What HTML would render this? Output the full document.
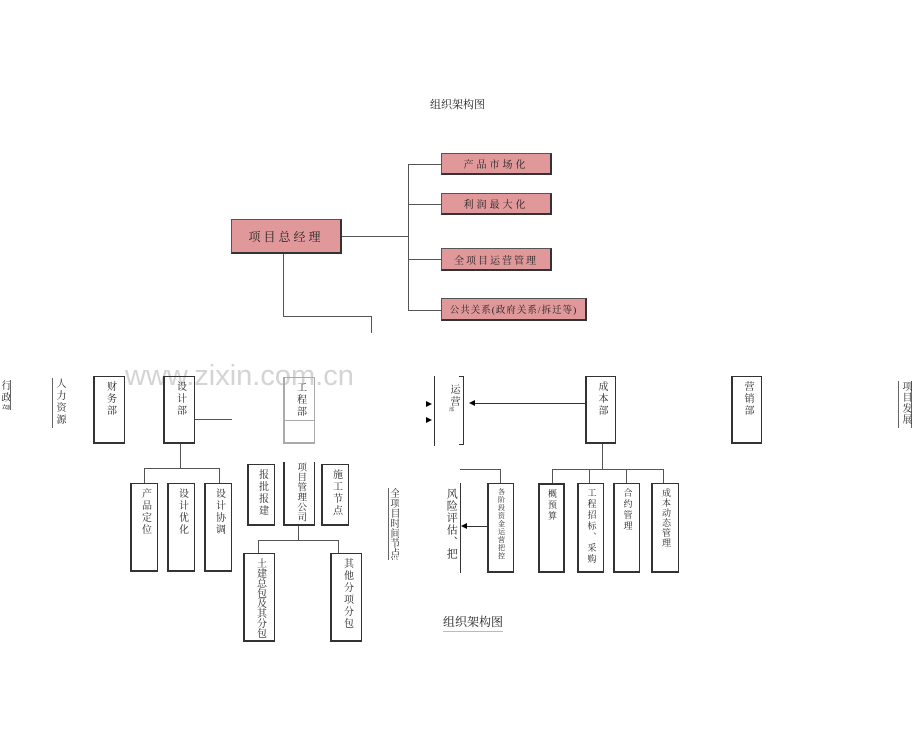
<!DOCTYPE html>
<html><head><meta charset="utf-8"><style>
*{margin:0;padding:0;box-sizing:border-box}
body{width:920px;height:734px;background:#fff;position:relative;overflow:hidden;font-family:"Liberation Serif","Noto Serif CJK SC","Noto Sans CJK SC",serif;color:#222}
.a{position:absolute}
.hb{position:absolute;background:#e0989a;border:1px solid #555;border-right:2px solid #333;border-bottom:2px solid #333;font-size:10px;display:flex;align-items:center;justify-content:center;letter-spacing:3px;white-space:nowrap}
.v{position:absolute;border:1px solid #333;border-left:2px solid #333;border-bottom:2px solid #333;display:flex;justify-content:center;align-items:flex-start;padding-top:4px;overflow:hidden}
.v>span{writing-mode:vertical-rl;text-orientation:upright;font-size:10px;line-height:1;letter-spacing:2px;white-space:nowrap}
.vt{position:absolute;writing-mode:vertical-rl;text-orientation:upright;font-size:10px;line-height:1.1;letter-spacing:2px;white-space:nowrap}
.h{position:absolute;height:1px;background:#555}
.w{position:absolute;width:1px;background:#555}
.arr{position:absolute;width:0;height:0;border-top:3px solid transparent;border-bottom:3px solid transparent}
</style></head><body>
<div class="a" style="left:430px;top:96px;font-size:11px">组织架构图</div>

<div class="hb" style="left:231px;top:219px;width:111px;height:35px;font-size:12px">项目总经理</div>
<div class="hb" style="left:441px;top:153px;width:111px;height:22px">产品市场化</div>
<div class="hb" style="left:441px;top:193px;width:111px;height:22px">利润最大化</div>
<div class="hb" style="left:441px;top:248px;width:111px;height:23px;letter-spacing:2px">全项目运营管理</div>
<div class="hb" style="left:441px;top:298px;width:146px;height:23px;letter-spacing:1px;font-size:9.5px">公共关系(政府关系/拆迁等)</div>
<div class="h" style="left:342px;top:236px;width:66px"></div>
<div class="w" style="left:408px;top:164px;height:147px"></div>
<div class="h" style="left:408px;top:164px;width:33px"></div>
<div class="h" style="left:408px;top:204px;width:33px"></div>
<div class="h" style="left:408px;top:259px;width:33px"></div>
<div class="h" style="left:408px;top:310px;width:33px"></div>
<div class="w" style="left:283px;top:254px;height:62px"></div>
<div class="h" style="left:283px;top:316px;width:88px"></div>
<div class="w" style="left:371px;top:316px;height:17px"></div>

<div class="a" style="left:125px;top:360px;font-family:'Liberation Sans',sans-serif;font-size:29px;color:#d4d4d4">www.zixin.com.cn</div>

<div class="vt" style="left:0;top:380px;height:30px;width:11px;border-right:1px solid #666;overflow:hidden">行政部</div>
<div class="vt" style="left:52px;top:378px;height:50px;width:13px;border-left:1px solid #666;padding-left:1px">人力资源</div>

<div class="v" style="left:93px;top:376px;width:32px;height:68px"><span>财务部</span></div>
<div class="v" style="left:163px;top:376px;width:32px;height:68px"><span>设计部</span></div>
<div class="h" style="left:195px;top:419px;width:37px"></div>
<div class="v" style="left:283px;top:377px;width:32px;height:67px;border-color:#aaa"><span>工程部</span></div>
<div class="h" style="left:284px;top:420px;width:30px;background:#aaa"></div>

<div class="w" style="left:180px;top:444px;height:24px"></div>
<div class="h" style="left:144px;top:468px;width:75px"></div>
<div class="w" style="left:144px;top:468px;height:15px"></div>
<div class="w" style="left:219px;top:468px;height:15px"></div>
<div class="v" style="left:130px;top:483px;width:28px;height:89px"><span>产品定位</span></div>
<div class="v" style="left:167px;top:483px;width:28px;height:89px"><span>设计优化</span></div>
<div class="v" style="left:204px;top:483px;width:28px;height:89px"><span>设计协调</span></div>

<div class="v" style="left:247px;top:464px;width:28px;height:62px"><span>报批报建</span></div>
<div class="v" style="left:283px;top:462px;width:32px;height:64px;border-top:none;padding-top:0"><span style="letter-spacing:0.5px;font-size:9.5px">项目管理公司</span></div>
<div class="v" style="left:321px;top:464px;width:28px;height:62px"><span>施工节点</span></div>
<div class="w" style="left:298px;top:526px;height:14px"></div>
<div class="h" style="left:258px;top:540px;width:80px"></div>
<div class="w" style="left:258px;top:540px;height:13px"></div>
<div class="w" style="left:338px;top:540px;height:13px"></div>
<div class="v" style="left:243px;top:553px;width:32px;height:89px"><span style="letter-spacing:0">土建总包及其分包</span></div>
<div class="v" style="left:330px;top:553px;width:32px;height:89px"><span>其他分项分包</span></div>

<div class="vt" style="left:388px;top:488px;width:11px;height:72px;border-left:1px solid #666;overflow:hidden;letter-spacing:0">全项目时间节点控</div>

<div class="w" style="left:434px;top:376px;height:70px;background:#333"></div>
<div class="vt" style="left:448px;top:384px;font-size:10px">运营</div>
<div class="a" style="left:449px;top:406px;font-size:5px">部</div>
<div class="w" style="left:463px;top:376px;height:69px;background:#333"></div>
<div class="h" style="left:459px;top:376px;width:5px;background:#333"></div>
<div class="h" style="left:459px;top:444px;width:5px;background:#333"></div>
<div class="arr" style="left:426px;top:401px;border-left:6px solid #000"></div>
<div class="arr" style="left:426px;top:417px;border-left:6px solid #000"></div>
<div class="h" style="left:474px;top:403px;width:111px;background:#333"></div>
<div class="arr" style="left:469px;top:400px;border-right:6px solid #000"></div>

<div class="v" style="left:585px;top:376px;width:31px;height:68px"><span>成本部</span></div>
<div class="v" style="left:731px;top:376px;width:31px;height:68px"><span>营销部</span></div>
<div class="vt" style="left:898px;top:381px;width:14px;height:47px;border-left:1px solid #666;border-right:1px solid #666;padding-left:1px;letter-spacing:1px">项目发展</div>

<div class="w" style="left:602px;top:444px;height:25px"></div>
<div class="h" style="left:552px;top:469px;width:111px"></div>
<div class="w" style="left:552px;top:469px;height:14px"></div>
<div class="w" style="left:589px;top:469px;height:14px"></div>
<div class="w" style="left:626px;top:469px;height:14px"></div>
<div class="w" style="left:663px;top:469px;height:14px"></div>
<div class="v" style="left:538px;top:483px;width:27px;height:90px;border-width:2px"><span style="font-size:9px">概预算</span></div>
<div class="v" style="left:577px;top:483px;width:27px;height:90px"><span style="font-size:9px;letter-spacing:2px">工程招标、采购</span></div>
<div class="v" style="left:613px;top:483px;width:27px;height:90px"><span style="font-size:9px">合约管理</span></div>
<div class="v" style="left:651px;top:483px;width:28px;height:90px"><span style="font-size:9px;letter-spacing:1px">成本动态管理</span></div>

<div class="h" style="left:460px;top:469px;width:40px"></div>
<div class="w" style="left:500px;top:469px;height:14px"></div>
<div class="v" style="left:487px;top:483px;width:27px;height:90px"><span style="font-size:7px;letter-spacing:1px">各阶段资金运营把控</span></div>
<div class="w" style="left:460px;top:483px;height:90px;background:#333"></div>
<div class="vt" style="left:444px;top:488px;font-size:11px;line-height:1.3;letter-spacing:1px">风险评估、把</div>
<div class="h" style="left:467px;top:526px;width:20px;background:#333"></div>
<div class="arr" style="left:461px;top:523px;border-right:6px solid #000"></div>

<div class="a" style="left:443px;top:613px;font-size:12px;border-bottom:1px solid #bbb;padding-bottom:1px">组织架构图</div>
</body></html>
